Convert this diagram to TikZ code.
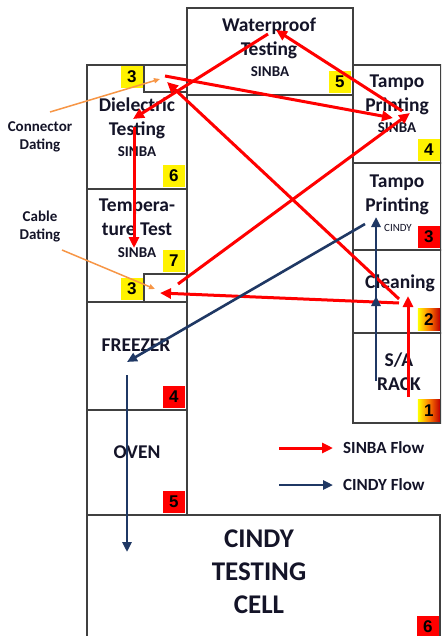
\documentclass[tikz,border=0pt]{standalone}
\usepackage{fontspec}
\setmainfont{Carlito}
\newfontfamily\numfont{Liberation Sans}
\usetikzlibrary{arrows.meta}
\definecolor{navy}{RGB}{31,56,100}
\definecolor{orangeln}{RGB}{247,150,70}
\definecolor{edgec}{RGB}{64,64,64}
\definecolor{dkred}{RGB}{192,0,0}
\definecolor{txt}{RGB}{20,20,40}
\begin{document}
\begin{tikzpicture}[x=1pt,y=-1pt,
 box/.style={draw=edgec,line width=1.2pt,anchor=north west,inner sep=0pt,outer sep=0pt},
 badge/.style={anchor=south east,minimum width=22pt,minimum height=22pt,inner sep=0pt,font=\numfont\bfseries\fontsize{17}{17}\selectfont},
 ylw/.style={badge,fill=yellow},
 rd/.style={badge,fill=red},
 grd/.style={badge,left color=yellow,right color=dkred,middle color=orange},
 lbl/.style={align=center,text=txt,font=\bfseries\fontsize{19.5}{24}\selectfont,inner sep=0pt},
 big/.style={align=center,text=txt,font=\bfseries\fontsize{27}{33}\selectfont,inner sep=0pt},
 sub/.style={text=txt,font=\bfseries\fontsize{15}{18}\selectfont,inner sep=0pt},
 tiny/.style={text=txt,font=\fontsize{11}{13}\selectfont,inner sep=0pt},
 note/.style={align=center,text=txt,font=\bfseries\fontsize{15}{18}\selectfont,inner sep=0pt},
 legend/.style={text=txt,font=\bfseries\fontsize{17}{18}\selectfont,inner sep=0pt,anchor=west},
 sflow/.style={red,line width=3pt,-{Triangle[length=11pt,width=10pt]}},
 cflow/.style={navy,line width=2.6pt,-{Triangle[length=10pt,width=9pt]}},
 oflow/.style={orangeln,line width=1.5pt,-{Triangle[length=6pt,width=5pt]}},
]
\clip (0,0) rectangle (441,636);
\fill[white] (0,0) rectangle (441,636);
% boxes
\node[box,minimum width=166pt,minimum height=87pt] (wp) at (187,8) {};
\node[box,minimum width=100pt,minimum height=124pt] (diel) at (87,65) {};
\node[box,minimum width=100pt,minimum height=113pt] (temp) at (87,189) {};
\node[box,minimum width=100pt,minimum height=108pt] (frz) at (87,302) {};
\node[box,minimum width=100pt,minimum height=105pt] (oven) at (87,410) {};
\node[box,minimum width=43pt,minimum height=27pt] (connbox) at (144,65) {};
\node[box,minimum width=43pt,minimum height=28pt] (cablebox) at (144,274) {};
\node[box,minimum width=88pt,minimum height=98pt] (tampoS) at (353,65) {};
\node[box,minimum width=88pt,minimum height=87pt] (tampoC) at (353,163) {};
\node[box,minimum width=88pt,minimum height=83pt] (clean) at (353,250) {};
\node[box,minimum width=88pt,minimum height=90pt] (rack) at (353,333) {};
\node[box,minimum width=353pt,minimum height=140pt] (cell) at (87,515) {};
% badges
\node[ylw] (b5) at (351,93) {5};
\node[ylw] (b4) at (440,161) {4};
\node[rd] (b3c) at (440,248) {3};
\node[grd] (b2) at (440,331) {2};
\node[grd] (b1) at (440,422) {1};
\node[ylw] (b6) at (185,187) {6};
\node[ylw] (b7) at (185,272) {7};
\node[rd] (b4f) at (185,408) {4};
\node[rd] (b5o) at (185,513) {5};
\node[rd] (b6c) at (439,638) {6};
\node[ylw] (b3a) at (143,88) {3};
\node[ylw] (b3b) at (143,300) {3};
% labels
\node[lbl] (wpT) at (269,38) {Waterproof\\Testing};
\node[sub] (wpS) at (270,72) {SINBA};
\node[lbl] (tsT) at (397,95) {Tampo\\Printing};
\node[sub] (tsS) at (397,128) {SINBA};
\node[lbl] (dlT) at (137,118) {Dielectric\\Testing};
\node[sub] (dlS) at (137,152) {SINBA};
\node[lbl] (tpT) at (137,217) {Tempera-\\ture Test};
\node[sub] (tpS) at (137,253) {SINBA};
\node[lbl] (tcT) at (397,195) {Tampo\\Printing};
\node[tiny] (tcS) at (398,228) {CINDY};
\node[lbl] (clT) at (400,283) {Cleaning};
\node[lbl] (rkT) at (399,372) {S/A\\RACK};
\node[lbl] (fzT) at (136,345) {FREEZER};
\node[lbl] (ovT) at (137,452) {OVEN};
\node[big] (ceT) at (259,572) {CINDY\\TESTING\\CELL};
\node[note] (cdT) at (40,137) {Connector\\Dating};
\node[note] (cbT) at (40,227) {Cable\\Dating};
\node[legend] (lgS) at (343,448) {SINBA Flow};
\node[legend] (lgC) at (343,485) {CINDY Flow};
% endpoints
\coordinate (rackR) at (408,397);
\coordinate (cleanR) at (408,296);
\coordinate (cleanA) at (399,303);
\coordinate (cleanB) at (399,299);
\coordinate (cableIn) at (160,293);
\coordinate (connIn) at (167,82);
\coordinate (connOut) at (165,76);
\coordinate (cableOut) at (178,284);
\coordinate (tsIn1) at (393,118);
\coordinate (tsIn2) at (410,113);
\coordinate (tsOut) at (402,111);
\coordinate (wpIn) at (276,30);
\coordinate (wpOut) at (268,34);
\coordinate (dlIn) at (133,119);
\coordinate (dlOut) at (134,127);
\coordinate (tpIn) at (134,248);
\coordinate (rackC) at (376,381);
\coordinate (cleanCin) at (376,296);
\coordinate (cleanCout) at (376,300);
\coordinate (tcIn) at (376,217);
\coordinate (tcOut) at (365,224);
\coordinate (fzIn) at (127,362);
\coordinate (fzOut) at (127,375);
\coordinate (ceIn) at (127,552);
\coordinate (cdFrom) at (50,112);
\coordinate (cdTo) at (160,79);
\coordinate (cbFrom) at (62,250);
\coordinate (cbTo) at (155,289);
\coordinate (lgS1) at (279,448);
\coordinate (lgS2) at (333,448);
\coordinate (lgC1) at (279,485);
\coordinate (lgC2) at (333,485);
% SINBA flow
\draw[sflow] (rackR) -- (cleanR);
\draw[sflow] (cleanA) -- (cableIn);
\draw[sflow] (cleanB) -- (connIn);
\draw[sflow] (connOut) -- (tsIn1);
\draw[sflow] (cableOut) -- (tsIn2);
\draw[sflow] (tsOut) -- (wpIn);
\draw[sflow] (wpOut) -- (dlIn);
\draw[sflow] (dlOut) -- (tpIn);
% CINDY flow
\draw[cflow] (rackC) -- (cleanCin);
\draw[cflow] (cleanCout) -- (tcIn);
\draw[cflow] (tcOut) -- (fzIn);
\draw[cflow] (fzOut) -- (ceIn);
% dating pointers
\draw[oflow] (cdFrom) -- (cdTo);
\draw[oflow] (cbFrom) -- (cbTo);
% legend
\draw[sflow] (lgS1) -- (lgS2);
\draw[cflow] (lgC1) -- (lgC2);
\end{tikzpicture}
\end{document}
